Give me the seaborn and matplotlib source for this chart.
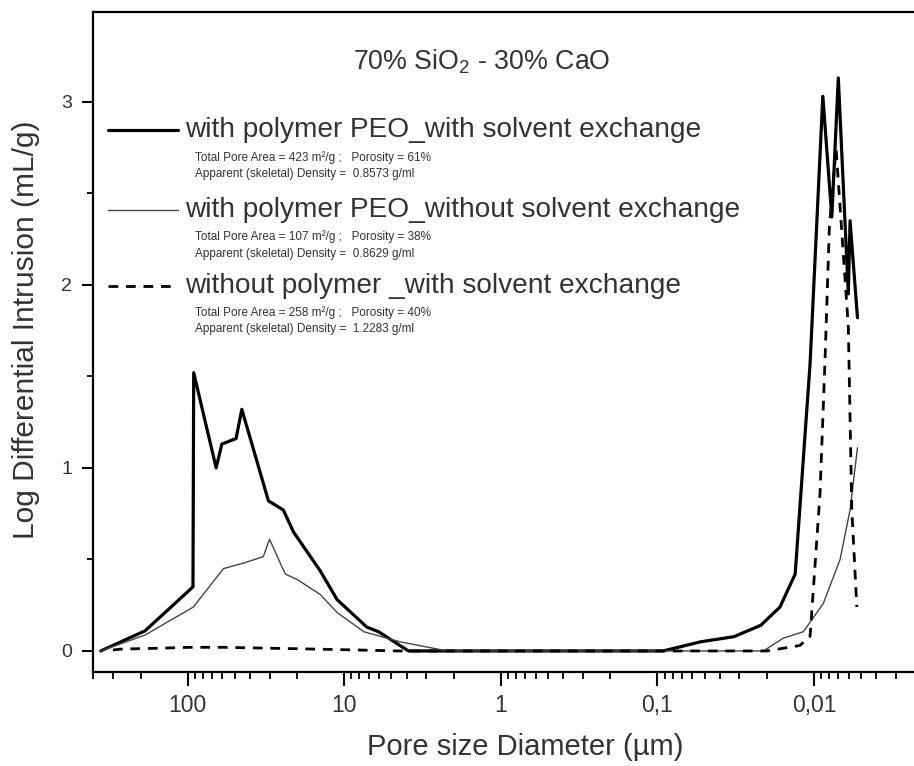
import numpy as np
import pandas as pd
import matplotlib
matplotlib.use("Agg")
import matplotlib.pyplot as plt
import seaborn as sns
from matplotlib.lines import Line2D
from matplotlib.ticker import LogLocator, MultipleLocator, NullFormatter

# ---- data ----
x_peo_sx = [359, 187, 92.5, 91.5, 65.8, 60.5, 49.1, 45.1, 30.5, 24.5, 21.1, 14.3, 11.1, 7.17, 6.04, 3.89,
            0.092, 0.053, 0.0325, 0.0219, 0.0165, 0.0132, 0.0106, 0.00879, 0.0077, 0.0070, 0.00604, 0.00589, 0.00528]
y_peo_sx = [0, 0.11, 0.35, 1.52, 1.00, 1.13, 1.16, 1.32, 0.82, 0.77, 0.65, 0.44, 0.28, 0.13, 0.105, 0,
            0, 0.05, 0.078, 0.14, 0.24, 0.42, 1.57, 3.03, 2.37, 3.13, 1.95, 2.35, 1.82]

x_peo_nosx = [359, 187, 92, 59, 44, 32.9, 30, 23.8, 20, 14.3, 11.1, 7.5, 5.9, 4.4, 2.2,
              0.021, 0.0182, 0.0157, 0.0117, 0.00872, 0.00682, 0.00589, 0.00528]
y_peo_nosx = [0, 0.087, 0.24, 0.45, 0.48, 0.515, 0.61, 0.42, 0.39, 0.31, 0.21, 0.105, 0.08, 0.05, 0,
              0, 0.035, 0.07, 0.105, 0.26, 0.50, 0.77, 1.11]

x_nopoly_sx = [300, 270, 150, 95, 60, 30, 15, 8, 4.4, 0.1, 0.02, 0.0123, 0.0106, 0.00916, 0.00851,
               0.00798, 0.00723, 0.00604, 0.00574, 0.00533]
y_nopoly_sx = [0.005, 0.01, 0.015, 0.02, 0.02, 0.015, 0.01, 0.005, 0, 0, 0.0, 0.03, 0.08, 0.86, 1.59,
               2.32, 2.74, 1.77, 0.77, 0.24]

series_names = ["with polymer PEO_with solvent exchange",
                "with polymer PEO_without solvent exchange",
                "without polymer _with solvent exchange"]
sub_lines = [["Total Pore Area = 423 m\u00b2/g ;   Porosity = 61%",
              "Apparent (skeletal) Density =  0.8573 g/ml"],
             ["Total Pore Area = 107 m\u00b2/g ;   Porosity = 38%",
              "Apparent (skeletal) Density =  0.8629 g/ml"],
             ["Total Pore Area = 258 m\u00b2/g ;   Porosity = 40%",
              "Apparent (skeletal) Density =  1.2283 g/ml"]]
title_text = "70% SiO$_\\mathregular{2}$ - 30% CaO"
x_tick_values = [100, 10, 1, 0.1, 0.01]
x_tick_labels = ["100", "10", "1", "0,1", "0,01"]
y_tick_values = [0, 1, 2, 3]

# ---- style ----
sns.set_theme(style="ticks")
plt.rcParams["font.family"] = ["Liberation Sans", "DejaVu Sans"]
plt.rcParams["mathtext.fontset"] = "custom"
plt.rcParams["mathtext.rm"] = "Liberation Sans"
txt = "#333333"

fig = plt.figure(figsize=(9.14, 7.66), dpi=100)
ax = fig.add_axes([0.1018, 0.1227, 0.8982, 0.8616])

frames = []
for name, xs, ys in zip(series_names, [x_peo_sx, x_peo_nosx, x_nopoly_sx],
                        [y_peo_sx, y_peo_nosx, y_nopoly_sx]):
    frames.append(pd.DataFrame({"d": xs, "v": ys, "s": name}))
df = pd.concat(frames, ignore_index=True)

styles = {
    series_names[0]: dict(color="black", linewidth=2.3, linestyle="-"),
    series_names[1]: dict(color="#444444", linewidth=1.0, linestyle="-"),
    series_names[2]: dict(color="black", linewidth=2.0, linestyle=(0, (3.5, 2.8))),
}
for name in series_names:
    sub = df[df["s"] == name]
    sns.lineplot(data=sub, x="d", y="v", ax=ax, sort=False, estimator=None,
                 legend=False, **styles[name])

ax.set_xscale("log")
ax.set_xlim(402, 0.0023)
ax.set_ylim(-0.115, 3.49)

ax.set_xticks(x_tick_values)
ax.set_xticklabels(x_tick_labels)
ax.xaxis.set_minor_locator(LogLocator(base=10, subs=np.arange(2, 10)))
ax.xaxis.set_minor_formatter(NullFormatter())
ax.set_yticks(y_tick_values)
ax.yaxis.set_minor_locator(MultipleLocator(0.5))

for sp in ["left", "bottom", "top"]:
    ax.spines[sp].set_linewidth(1.6)
    ax.spines[sp].set_color("black")
ax.spines["right"].set_visible(False)

ax.tick_params(axis="x", which="major", direction="out", length=10, width=1.5,
               labelsize=16.5, labelcolor=txt, color="black", pad=6)
ax.tick_params(axis="x", which="minor", direction="out", length=5, width=1.3, color="black")
ax.tick_params(axis="y", which="major", direction="out", length=8, width=1.5,
               labelsize=14, labelcolor=txt, color="black", pad=7)
ax.tick_params(axis="y", which="minor", direction="out", length=4.5, width=1.3, color="black")

ax.set_xlabel("Pore size Diameter (\u00b5m)", fontsize=21, color=txt)
ax.xaxis.set_label_coords(0.526, -0.092)
ax.set_ylabel("Log Differential Intrusion (mL/g)", fontsize=21.5, color=txt)
ax.yaxis.set_label_coords(-0.0646, 0.518)

# title inside plot
ax.text(0.474, 0.924, title_text, transform=ax.transAxes, ha="center", va="center",
        fontsize=19.3, color=txt)

# manual legend
entry_y = [0.821, 0.700, 0.585]
sub_dy = [0.041, 0.066]
for name, yy, subs in zip(series_names, entry_y, sub_lines):
    st = styles[name]
    ax.add_line(Line2D([0.018, 0.104], [yy, yy], transform=ax.transAxes,
                       color=st["color"], linewidth=st["linewidth"], linestyle=st["linestyle"]))
    ax.text(0.112, yy, name, transform=ax.transAxes, ha="left", va="center",
            fontsize=20.2, color=txt)
    for k, s in enumerate(subs):
        ax.text(0.124, yy - sub_dy[k], s, transform=ax.transAxes, ha="left", va="center",
                fontsize=8.5, color=txt)

fig.savefig("out.png", dpi=100)
